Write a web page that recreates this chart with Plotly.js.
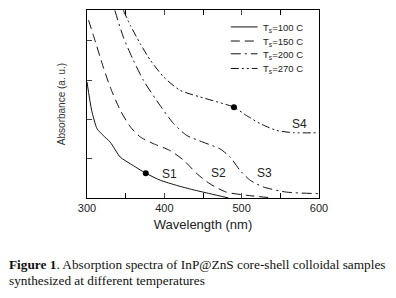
<!DOCTYPE html>
<html>
<head>
<meta charset="utf-8">
<script src="https://cdn.plot.ly/plotly-3.0.1.min.js"></script>
<style>html,body{margin:0;padding:0;background:#fff;}#chart{width:396px;height:298px;}</style>
</head>
<body>
<div id="chart"></div>
<script>
// Wavelength (nm) and absorbance (a.u.)
const s1x = [300, 306, 313, 321, 330, 343, 356, 376, 395, 416, 437, 459, 483];
const s1y = [2.95, 2.23, 1.76, 1.59, 1.42, 1.04, 0.87, 0.63, 0.45, 0.32, 0.21, 0.11, 0.0];
const s2x = [302, 309, 321, 330, 343, 356, 369, 386, 407, 425, 442, 459, 480, 506, 541];
const s2y = [4.52, 4.09, 3.33, 2.82, 2.23, 1.81, 1.55, 1.38, 1.21, 0.96, 0.62, 0.36, 0.15, 0.07, 0.0];
const s3x = [336, 347, 360, 373, 390, 412, 429, 450, 472, 485, 498, 511, 528, 558, 600];
const s3y = [4.77, 4.09, 3.50, 2.99, 2.48, 1.89, 1.59, 1.42, 1.25, 1.04, 0.70, 0.45, 0.28, 0.15, 0.11];
const s4x = [347, 356, 369, 382, 399, 420, 446, 476, 490, 506, 524, 545, 567, 600];
const s4y = [4.77, 4.39, 3.92, 3.50, 3.08, 2.74, 2.57, 2.40, 2.31, 2.10, 1.89, 1.72, 1.66, 1.66];
const seriesNames = ['T<sub>s</sub>=100 C', 'T<sub>s</sub>=150 C', 'T<sub>s</sub>=200 C', 'T<sub>s</sub>=270 C'];
const dotX = [376, 490];
const dotY = [0.63, 2.31];
const labelText = ['S1', 'S2', 'S3', 'S4'];
const labelX = [407, 470, 530, 575];
const labelY = [0.62, 0.64, 0.64, 1.87];
const xTickVals = [300, 400, 500, 600];

const dashes = ['solid', '9px,5px', '10px,4px,2px,4px', '8px,3px,2px,3px,2px,3px'];
const xs = [s1x, s2x, s3x, s4x];
const ys = [s1y, s2y, s3y, s4y];
const traces = xs.map((x, i) => ({
  x: x, y: ys[i], type: 'scatter', mode: 'lines', name: seriesNames[i], showlegend: false,
  line: {color: '#111', width: 1, dash: dashes[i], shape: 'spline', smoothing: 0.6}
}));
traces.push({x: dotX, y: dotY, type: 'scatter', mode: 'markers', showlegend: false,
  marker: {color: '#000', size: 6}});

const font = {family: 'Liberation Sans, Arial', color: '#222'};
const annotations = labelText.map((t, i) => ({
  x: labelX[i], y: labelY[i], xref: 'x', yref: 'y', text: t, showarrow: false,
  font: Object.assign({size: 12}, font)
}));
// legend, drawn by hand for its compact spacing
const legY = [0.910, 0.835, 0.767, 0.689];
const shapes = [];
seriesNames.forEach((n, i) => {
  shapes.push({type: 'line', xref: 'paper', yref: 'paper', x0: 0.62, x1: 0.735,
    y0: legY[i], y1: legY[i], line: {color: '#111', width: 1, dash: dashes[i]}});
  annotations.push({xref: 'paper', yref: 'paper', x: 0.752, y: legY[i] - 0.004,
    xanchor: 'left', yanchor: 'middle', text: n, showarrow: false,
    font: Object.assign({size: 9.5}, font)});
});
annotations.push({
  xref: 'paper', yref: 'paper', x: -0.345, y: -0.356, xanchor: 'left', yanchor: 'middle',
  text: '<b>Figure 1</b>. Absorption spectra of InP@ZnS core-shell colloidal samples',
  showarrow: false, font: {family: 'Liberation Serif, Times New Roman', size: 13.3, color: '#111'}
});
annotations.push({
  xref: 'paper', yref: 'paper', x: -0.345, y: -0.44, xanchor: 'left', yanchor: 'middle',
  text: 'synthesized at different temperatures',
  showarrow: false, font: {family: 'Liberation Serif, Times New Roman', size: 13.3, color: '#111'}
});

const layout = {
  width: 396, height: 298,
  margin: {l: 87, r: 77, t: 10, b: 100},
  paper_bgcolor: '#fff', plot_bgcolor: '#fff',
  showlegend: false,
  xaxis: {range: [300, 600], tickvals: xTickVals, ticks: 'inside', ticklen: 5,
    minor: {dtick: 50, ticks: 'inside', ticklen: 5, tickcolor: '#000'},
    showgrid: false, zeroline: false, showline: true, linecolor: '#000', linewidth: 1,
    mirror: 'ticks',
    tickfont: Object.assign({size: 11}, font),
    title: {text: 'Wavelength (nm)', standoff: 6, font: Object.assign({size: 13}, font)}},
  yaxis: {range: [0, 4.78], dtick: 1, tick0: 0, ticks: 'inside', ticklen: 5,
    showticklabels: false, showgrid: false, zeroline: false, showline: true,
    linecolor: '#000', linewidth: 1, mirror: true,
    title: {text: 'Absorbance (a. u.)', standoff: 18, font: {family: 'Liberation Sans, Arial', size: 10, color: '#333'}}},
  shapes: shapes,
  annotations: annotations
};
Plotly.newPlot('chart', traces, layout, {staticPlot: true, displayModeBar: false});
</script>
</body>
</html>
